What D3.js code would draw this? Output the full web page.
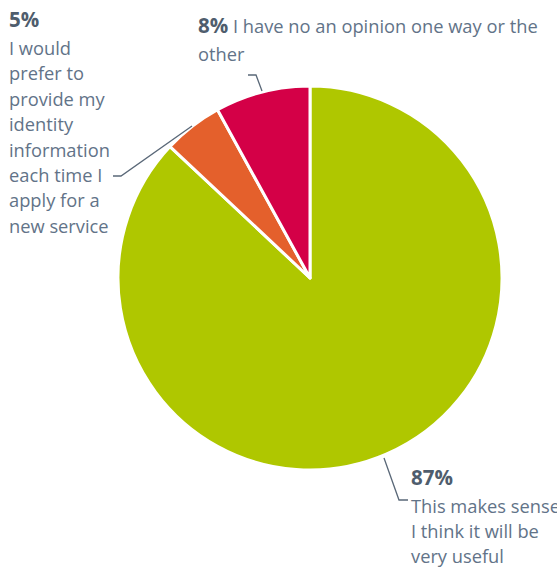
<!DOCTYPE html>
<html>
<head>
<meta charset="utf-8">
<script src="https://cdn.jsdelivr.net/npm/d3@7"></script>
<style>
  html, body { margin: 0; padding: 0; background: #fff; }
  svg { display: block; }
  text { font-family: "Open Sans", "Noto Sans", sans-serif; }
</style>
</head>
<body>
<svg id="chart" width="557" height="568"></svg>
<script>
// Survey responses
const categories = ["This makes sense I think it will be very useful",
                    "I would prefer to provide my identity information each time I apply for a new service",
                    "I have no an opinion one way or the other"];
const values = [87, 5, 8];
const colors = ["#afc700", "#e4602c", "#d40047"];

const svg = d3.select("#chart");
const cx = 310, cy = 278, r = 192;

const pie = d3.pie().sort(null).value(d => d.value);
const arcs = pie(categories.map((c, i) => ({ name: c, value: values[i], color: colors[i] })));
const arc = d3.arc().innerRadius(0).outerRadius(r);

const g = svg.append("g").attr("transform", `translate(${cx},${cy})`);
g.selectAll("path")
  .data(arcs)
  .join("path")
  .attr("d", arc)
  .attr("fill", d => d.data.color)
  .attr("stroke", "#fff")
  .attr("stroke-width", 3)
  .attr("stroke-linejoin", "round");

// Leader lines
const leader = d3.line();
const lines = [
  [[384, 458], [399, 500], [408, 500]],
  [[113, 176], [121, 176], [192, 126]],
  [[248, 75], [256, 75], [262, 91]]
];
svg.selectAll("path.leader")
  .data(lines)
  .join("path")
  .attr("class", "leader")
  .attr("d", leader)
  .attr("fill", "none")
  .attr("stroke", "#5a6878")
  .attr("stroke-width", 1.3);

const textColor = "#627388";
const boldColor = "#4f5d6d";
const fsText = 18.3, fsPct = 20.5;

function labelBlock(x, yPct, yFirst, pct, lines, step) {
  svg.append("text").attr("x", x).attr("y", yPct)
    .attr("font-size", fsPct).attr("font-weight", "bold").attr("fill", boldColor)
    .text(pct + "%");
  lines.forEach((ln, i) => {
    svg.append("text").attr("x", x).attr("y", yFirst + step * i)
      .attr("font-size", fsText).attr("fill", textColor).text(ln);
  });
}

// 5% label
labelBlock(9, 27, 55, values[1],
  ["I would", "prefer to", "provide my", "identity", "information", "each time I", "apply for a", "new service"], 25.4);

// 87% label
labelBlock(411, 485, 513, values[0], ["This makes sense", "I think it will be", "very useful"], 25);

// 8% label
const t8 = svg.append("text").attr("x", 198).attr("y", 33);
t8.append("tspan").attr("font-size", fsPct).attr("font-weight", "bold").attr("fill", boldColor).text(values[2] + "%");
t8.append("tspan").attr("font-size", fsText).attr("fill", textColor).text(" I have no an opinion one way or the");
svg.append("text").attr("x", 198).attr("y", 61).attr("font-size", fsText).attr("fill", textColor).text("other");
</script>
</body>
</html>
